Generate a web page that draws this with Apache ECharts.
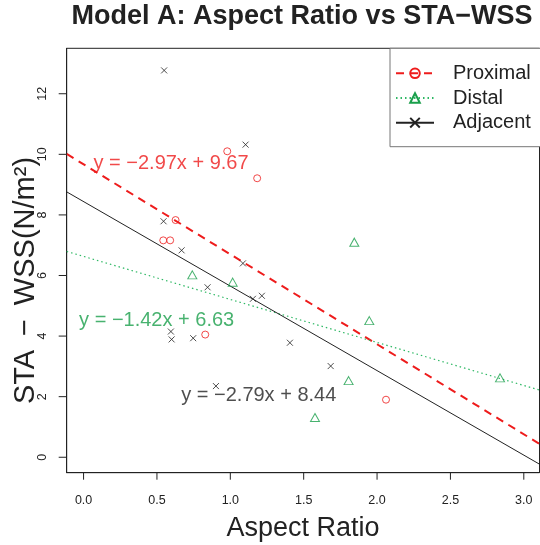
<!DOCTYPE html>
<html>
<head>
<meta charset="utf-8">
<script src="https://cdn.jsdelivr.net/npm/echarts@6/dist/echarts.min.js"></script>
<style>
  html, body { margin: 0; padding: 0; background: #fff; }
  #chart { width: 540px; height: 545px; }
</style>
</head>
<body>
<div id="chart"></div>
<script>
// ---- data ----
const groupNames = ['Proximal', 'Distal', 'Adjacent'];

const proximalX = [0.979, 1.183, 0.627, 0.543, 0.590, 0.829, 2.061];
const proximalY = [10.10, 9.21, 7.83, 7.16, 7.16, 4.05, 1.90];

const distalX = [0.741, 1.016, 1.845, 1.947, 1.806, 1.577, 2.838];
const distalY = [6.02, 5.78, 7.10, 4.51, 2.53, 1.31, 2.62];

const adjacentX = [0.549, 1.104, 0.545, 0.668, 1.086, 0.845, 1.154, 1.215, 0.595, 0.600, 0.747, 1.406, 0.902, 1.684];
const adjacentY = [12.77, 10.32, 7.79, 6.83, 6.40, 5.61, 5.23, 5.33, 4.15, 3.89, 3.93, 3.78, 2.35, 3.01];

// fitted lines (slope, intercept) as printed on the chart
const fitSlopes = [-2.97, -1.42, -2.79];
const fitIntercepts = [9.67, 6.63, 8.44];

// where each equation label is anchored (data coordinates)
const eqLabelX = [0.596, 0.498, 1.194];
const eqLabelY = [9.70, 4.53, 2.03];

const xTicks = [0, 0.5, 1.0, 1.5, 2.0, 2.5, 3.0];
const yTicks = [0, 2, 4, 6, 8, 10, 12];

const xRange = [-0.115, 3.107];
const yRange = [-0.51, 13.5];

// ---- styles ----
const FONT = '"Liberation Sans", Arial, Helvetica, sans-serif';
const colors = ['#ee1c1c', '#1a9f4b', '#222222'];
const symbols = [
  'path://M0,5A5,5 0 1 1 10,5A5,5 0 1 1 0,5Z',
  'path://M5,0L10,8.66L0,8.66Z',
  'path://M0,0L10,10M10,0L0,10'
];
const symbolSizes = [7, [9, 8], 6];
const lineStyles = [
  { color: colors[0], width: 2, type: [8, 6] },
  { color: '#2eb864', width: 1.2, type: [1.5, 3] },
  { color: '#222222', width: 1, type: 'solid' }
];
const pointSets = [[proximalX, proximalY], [distalX, distalY], [adjacentX, adjacentY]];

const fmtNum = v => (v < 0 ? '\u2212' + Math.abs(v).toFixed(2) : v.toFixed(2));
const eqText = i => 'y = ' + fmtNum(fitSlopes[i]) + 'x + ' + fitIntercepts[i].toFixed(2);

const series = [];
// line series first so the legend uses their line+symbol icon
groupNames.forEach((name, i) => {
  series.push({
    name: name,
    type: 'line',
    data: [
      [xRange[0], fitIntercepts[i] + fitSlopes[i] * xRange[0]],
      [xRange[1], fitIntercepts[i] + fitSlopes[i] * xRange[1]]
    ],
    showSymbol: false,
    symbol: symbols[i],
    itemStyle: { color: 'rgba(0,0,0,0)', borderColor: colors[i], borderWidth: 1 },
    lineStyle: lineStyles[i],
    silent: true,
    clip: true,
    z: 3
  });
});
groupNames.forEach((name, i) => {
  const [xs, ys] = pointSets[i];
  series.push({
    name: name,
    type: 'scatter',
    data: xs.map((x, k) => [x, ys[k]]),
    symbol: symbols[i],
    symbolSize: symbolSizes[i],
    itemStyle: { color: 'rgba(0,0,0,0)', borderColor: colors[i], borderWidth: 1 },
    z: 4
  });
});
// equation labels
groupNames.forEach((name, i) => {
  series.push({
    type: 'scatter',
    data: [[eqLabelX[i], eqLabelY[i]]],
    symbolSize: 0,
    silent: true,
    label: {
      show: true,
      position: 'inside',
      formatter: eqText(i),
      fontFamily: FONT,
      fontSize: 20,
      color: i === 2 ? '#222222' : colors[i]
    },
    z: 5
  });
});
// outward tick marks, placed through the axis scales
series.push({
  type: 'custom',
  silent: true,
  clip: false,
  data: xTicks.map(v => [v, yRange[0]]),
  renderItem: (params, api) => {
    const p = api.coord([api.value(0), api.value(1)]);
    return { type: 'line', shape: { x1: p[0], y1: p[1], x2: p[0], y2: p[1] + 7 }, style: { stroke: '#222222', lineWidth: 1 } };
  },
  z: 6
});
series.push({
  type: 'custom',
  silent: true,
  clip: false,
  data: yTicks.map(v => [xRange[0], v]),
  renderItem: (params, api) => {
    const p = api.coord([api.value(0), api.value(1)]);
    return { type: 'line', shape: { x1: p[0], y1: p[1], x2: p[0] - 8, y2: p[1] }, style: { stroke: '#222222', lineWidth: 1 } };
  },
  z: 6
});

const chart = echarts.init(document.getElementById('chart'), null, { renderer: 'canvas' });
chart.setOption({
  animation: false,
  backgroundColor: '#ffffff',
  textStyle: { fontFamily: FONT },
  title: {
    text: 'Model A: Aspect Ratio vs STA\u2212WSS',
    left: 302,
    textAlign: 'center',
    top: 3,
    padding: 0,
    textStyle: { fontFamily: FONT, fontSize: 27, fontWeight: 'bold', color: '#222222' }
  },
  legend: {
    data: groupNames,
    orient: 'vertical',
    left: 390,
    top: 48.3,
    padding: [15, 12, 14, 5],
    itemWidth: 38,
    itemHeight: 12,
    itemGap: 4.7,
    borderColor: '#777777',
    borderWidth: 1,
    backgroundColor: '#ffffff',
    selectedMode: false,
    textStyle: { fontFamily: FONT, fontSize: 20, color: '#222222', lineHeight: 20, padding: [0, 0, 0, 14] }
  },
  grid: {
    left: 66.7,
    top: 48.3,
    right: 0.5,
    bottom: 72.3,
    show: true,
    borderColor: '#222222',
    borderWidth: 1,
    backgroundColor: 'transparent',
    containLabel: false,
    outerBoundsMode: 'none'
  },
  xAxis: {
    type: 'value',
    position: 'bottom',
    min: xRange[0],
    max: xRange[1],
    name: 'Aspect Ratio',
    nameLocation: 'middle',
    nameGap: 42,
    nameMoveOverlap: false,
    nameTextStyle: { fontFamily: FONT, fontSize: 27, color: '#222222' },
    axisLine: { show: true, onZero: false, lineStyle: { color: '#222222', width: 1 } },
    splitLine: { show: false },
    axisTick: { show: false },
    axisLabel: {
      customValues: xTicks,
      formatter: v => v.toFixed(1),
      fontFamily: FONT, fontSize: 12.5, color: '#222222', margin: 21
    }
  },
  yAxis: {
    type: 'value',
    position: 'left',
    min: yRange[0],
    max: yRange[1],
    name: 'STA \u2009\u2212\u2009 WSS(N/m\u00B2)',
    nameLocation: 'middle',
    nameRotate: 90,
    nameGap: 26,
    nameMoveOverlap: false,
    nameTextStyle: { fontFamily: FONT, fontSize: 29, color: '#222222', padding: [0, 40, 0, 0] },
    axisLine: { show: true, onZero: false, lineStyle: { color: '#222222', width: 1 } },
    splitLine: { show: false },
    axisTick: { show: false },
    axisLabel: {
      customValues: yTicks,
      rotate: 90,
      formatter: v => String(v),
      fontFamily: FONT, fontSize: 12.5, color: '#222222', margin: 18
    }
  },
  series: series
});
</script>
</body>
</html>
